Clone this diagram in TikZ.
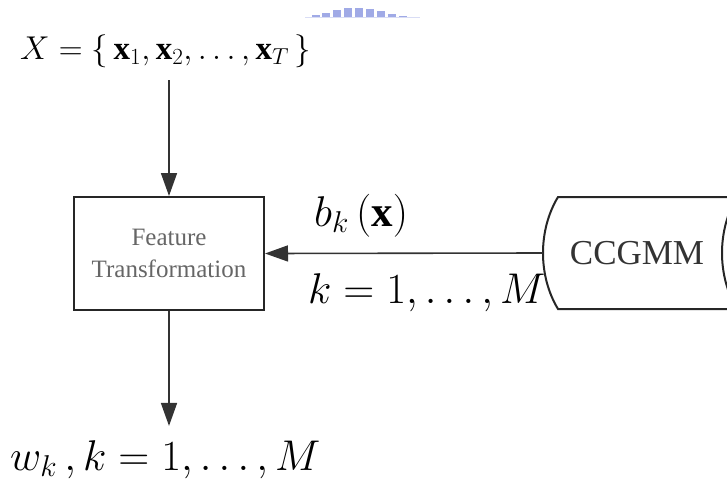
\RequirePackage{fix-cm}
\documentclass[tikz,border=0pt]{standalone}
\usepackage{amsmath}
\usepackage{fontspec}
\setmainfont{Liberation Serif}
\usepackage{tikz}
\usetikzlibrary{positioning, arrows.meta}
\definecolor{wmblue}{RGB}{160,170,230}

\begin{document}
\begin{tikzpicture}[
    x=1pt, y=-1pt,
    >={Triangle[length=23pt, width=16pt]},
    box/.style={draw=black!85, line width=2pt, minimum width=190pt, minimum height=113pt, align=center, text=black!60, font=\fontsize{25}{32}\selectfont},
    eqn/.style={inner sep=0pt, anchor=base west, font=\fontsize{43}{50}\selectfont},
    arrow/.style={->, line width=1.6pt, draw=black!80}
]
\useasboundingbox (0,0) rectangle (727,484);

% Watermark remnant
\foreach \x/\h in {316/2, 326/4, 337/7, 348/9, 359/9, 370/8, 381/6, 392/3, 403/1}
  \fill[wmblue] (\x-4,17) rectangle (\x+4,17-\h);
\draw[wmblue!40, line width=0.6pt] (305,17.6) -- (420,17.6);

% Input, transformation and output
\node[eqn, font=\fontsize{33}{36}\selectfont] (input) at (20,60) {$X=\{\,\mathbf{x}_1,\mathbf{x}_2,\ldots,\mathbf{x}_T\,\}$};
\node[box] (feature) at (169,253.5) {Feature\\Transformation};
\node[eqn] (output) at (10,470) {$w_k\,,k=1,\ldots,M$};

% Model store
\node[minimum width=188pt, minimum height=112pt, inner sep=0pt, text=black!80, font=\fontsize{35}{40}\selectfont] (ccgmm) at (637,253) {CCGMM};
\draw[line width=2pt, draw=black!85] (740,197) -- (558,197) .. controls (538,230) and (538,276) .. (558,309) -- (740,309);
\draw[line width=2pt, draw=black!85] (737,197) .. controls (717,230) and (717,276) .. (737,309);

% Labels on the model arrow
\node[eqn] (density) at (314,226) {$b_k\,(\mathbf{x})$};
\node[eqn] (range) at (308,303) {$k=1,\ldots,M$};

% Arrows
\draw[arrow, shorten <=12pt] (input.south -| feature.north) -- (feature.north);
\draw[arrow] (ccgmm.west) -- (feature.east);
\draw[arrow, shorten >=14pt] (feature.south) -- (feature.south |- output.north);

\end{tikzpicture}
\end{document}
